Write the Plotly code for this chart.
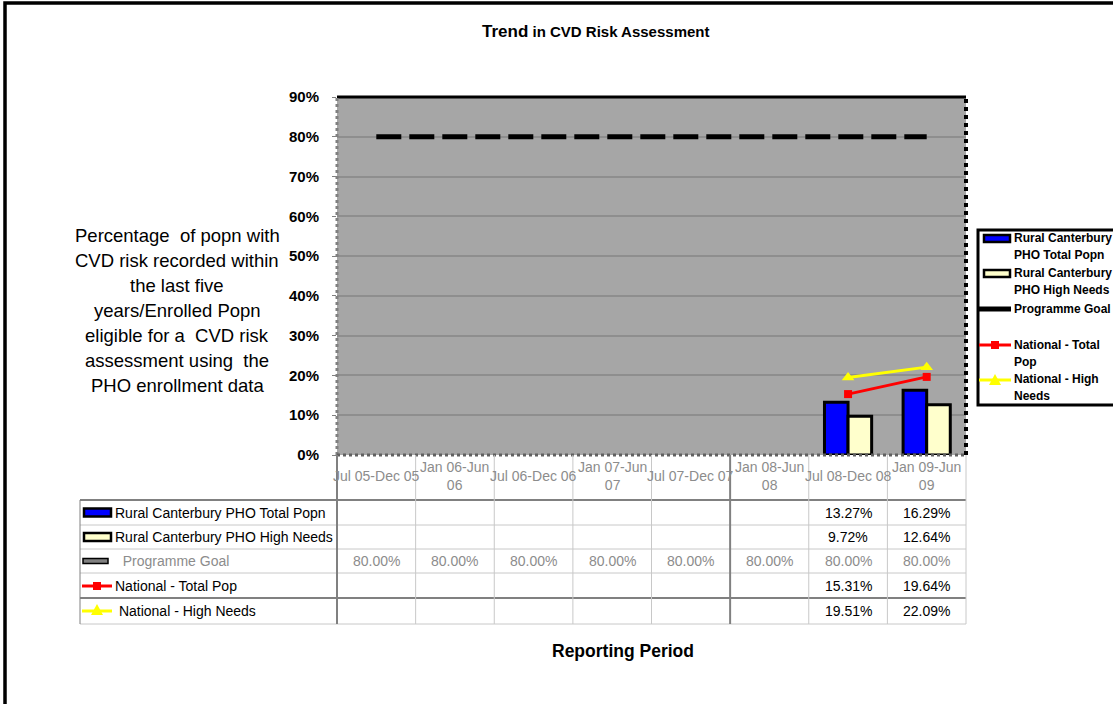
import plotly.graph_objects as go

# ── Data ─────────────────────────────────────────────────────────────────────
periods = ["Jul 05-Dec 05", "Jan 06-Jun 06", "Jul 06-Dec 06", "Jan 07-Jun 07",
           "Jul 07-Dec 07", "Jan 08-Jun 08", "Jul 08-Dec 08", "Jan 09-Jun 09"]
period_labels = ["Jul 05-Dec 05", "Jan 06-Jun<br>06", "Jul 06-Dec 06", "Jan 07-Jun<br>07",
                 "Jul 07-Dec 07", "Jan 08-Jun<br>08", "Jul 08-Dec 08", "Jan 09-Jun<br>09"]
rural_total = [None, None, None, None, None, None, 0.1327, 0.1629]
rural_high = [None, None, None, None, None, None, 0.0972, 0.1264]
programme_goal = [0.80, 0.80, 0.80, 0.80, 0.80, 0.80, 0.80, 0.80]
national_total = [None, None, None, None, None, None, 0.1531, 0.1964]
national_high = [None, None, None, None, None, None, 0.1951, 0.2209]

y_ticks = [0, 0.1, 0.2, 0.3, 0.4, 0.5, 0.6, 0.7, 0.8, 0.9]
y_title_lines = ["Percentage  of popn with", "CVD risk recorded within", "the last five",
                 "years/Enrolled Popn", "eligible for a  CVD risk",
                 "assessment using  the", "PHO enrollment data"]
legend_lines = [["Rural Canterbury", "PHO Total Popn"],
                ["Rural Canterbury", "PHO High Needs"],
                ["Programme Goal"],
                ["National - Total", "Pop"],
                ["National - High", "Needs"]]

# ── Geometry (page pixels) ───────────────────────────────────────────────────
W, H = 1113, 704
PL, PR, PT, PB = 337, 966, 97, 455
FONT = "Liberation Sans, Arial, sans-serif"
GRAY_TXT = "#8C8C8C"


def px_x(x):
    return (x - PL) / (PR - PL)


def px_y(y):
    return (PB - y) / (PB - PT)


x_idx = list(range(len(periods)))

fig = go.Figure()
fig.add_trace(go.Bar(
    x=x_idx, y=rural_total, name="Rural Canterbury PHO Total Popn",
    marker={"color": "#0000FF", "line": {"color": "black", "width": 3}},
))
fig.add_trace(go.Bar(
    x=x_idx, y=rural_high, name="Rural Canterbury PHO High Needs",
    marker={"color": "#FFFFCC", "line": {"color": "black", "width": 3}},
))
fig.add_trace(go.Scatter(
    x=x_idx, y=programme_goal, mode="lines", name="Programme Goal",
    line={"color": "black", "width": 5, "dash": "25px,8px"},
))
fig.add_trace(go.Scatter(
    x=x_idx, y=national_total, mode="lines+markers", name="National - Total Pop",
    line={"color": "#FF0000", "width": 3},
    marker={"symbol": "square", "size": 8, "color": "#FF0000"},
))
fig.add_trace(go.Scatter(
    x=x_idx, y=national_high, mode="lines+markers", name="National - High Needs",
    line={"color": "#FFFF00", "width": 3},
    marker={"symbol": "triangle-up", "size": 11, "color": "#FFFF00"},
))

shapes = []
annotations = []


def line(x0, x1, y0, y1, color, width, dash="solid"):
    shapes.append(dict(type="line", xref="paper", yref="paper",
                       x0=x0, x1=x1, y0=y0, y1=y1,
                       line={"color": color, "width": width, "dash": dash}))


def rect(x0, x1, y0, y1, fill, lc="black", lw=2.5):
    shapes.append(dict(type="rect", xref="paper", yref="paper",
                       x0=px_x(x0), x1=px_x(x1), y0=px_y(y0), y1=px_y(y1),
                       fillcolor=fill, line={"color": lc, "width": lw}))


def tri(xc, yc, fill):
    shapes.append(dict(type="path", xref="paper", yref="paper",
                       path=f"M {px_x(xc - 6)},{px_y(yc + 4)} L {px_x(xc + 6)},{px_y(yc + 4)} "
                            f"L {px_x(xc)},{px_y(yc - 7)} Z",
                       fillcolor=fill, line={"width": 0}))


def text(x, y, s, size=14, color="black", anchor="left", xref="paper", bold=False, family=FONT):
    annotations.append(dict(x=x, xref=xref, y=px_y(y), yref="paper", text=s,
                            showarrow=False, xanchor=anchor, yanchor="middle",
                            font={"family": family, "size": size, "color": color,
                                  "weight": "bold" if bold else "normal"}))


# plot area edges
line(0, 1, 1, 1, "black", 3)
line(1, 1, 0, 1, "black", 4, "dot")
line(0, 0, 0, 1, "#808080", 3, "dot")
line(0, 1, 0, 0, "#606060", 3, "dot")

# outer frame
rect(5, 1130, 3, 720, "rgba(0,0,0,0)", "black", 3.5)

# x category labels
for i, lab in enumerate(period_labels):
    text(i, 476, lab, 14, GRAY_TXT, "center", xref="x")

# data table grid
row_edges = [500, 525, 549, 573, 598, 624]
n = len(periods)
light, dark = "#C8C8C8", "#808080"
for k, ye in enumerate(row_edges):
    heavy = k in (0, 4)
    line(px_x(80), 1, px_y(ye), px_y(ye), dark if heavy else light, 2 if heavy else 1)
line(px_x(80), px_x(80), px_y(500), px_y(624), dark, 1)
for b in range(n + 1):
    heavy = b in (0, 5)
    line(b / n, b / n, 0, px_y(624), dark if heavy else light, 2 if heavy else 1)

rows = [
    ("Rural Canterbury PHO Total Popn", rural_total, "black"),
    ("Rural Canterbury PHO High Needs", rural_high, "black"),
    ("  Programme Goal", programme_goal, GRAY_TXT),
    ("National - Total Pop", national_total, "black"),
    (" National - High Needs", national_high, "black"),
]
for r, (label, vals, col) in enumerate(rows):
    yc = (row_edges[r] + row_edges[r + 1]) / 2
    text(px_x(113), yc, label, 14, col)
    for i, v in enumerate(vals):
        if v is not None:
            text(i, yc, f"{v:.2%}", 14, col, "center", xref="x")

# legend keys inside the table
rect(84, 111, 508.5, 516.5, "#0000FF")
rect(84, 111, 533, 541, "#FFFFCC")
rect(83, 108, 558.5, 563.5, "#808080", lw=1.5)
line(px_x(82), px_x(112), px_y(586), px_y(586), "#FF0000", 3)
rect(93, 101, 582, 590, "#FF0000", lw=0)
line(px_x(82), px_x(112), px_y(611), px_y(611), "#FFFF00", 3)
tri(97, 611, "#FFFF00")

# legend box (right side, runs past the page edge like the original)
rect(978, 1130, 230, 405, "white", "black", 3)
rect(984, 1010, 235, 242, "#0000FF")
rect(984, 1010, 270, 277, "#FFFFCC")
line(px_x(979), px_x(1011), px_y(309), px_y(309), "black", 5)
line(px_x(979), px_x(1011), px_y(345), px_y(345), "#FF0000", 3)
rect(991, 999, 341, 349, "#FF0000", lw=0)
line(px_x(979), px_x(1011), px_y(380), px_y(380), "#FFFF00", 3)
tri(995, 381, "#FFFF00")
legend_y = [238, 273, 309, 345, 379]
for y0, parts in zip(legend_y, legend_lines):
    for j, part in enumerate(parts):
        text(px_x(1012), y0 + 17 * j, part, 12, "black", bold=True)

# titles
annotations.append(dict(x=px_x(595), xref="paper", y=px_y(32), yref="paper",
                        text="<b><span style='font-size:17px'>Trend</span> in CVD Risk Assessment</b>",
                        showarrow=False, xanchor="center", yanchor="middle",
                        font={"family": "Liberation Sans Narrow, " + FONT, "size": 15,
                              "color": "black"}))
text(px_x(623), 651, "Reporting Period", 17.5, "black", "center", bold=True)
for k, s in enumerate(y_title_lines):
    text(px_x(177), 235 + 25 * k, s, 18.5, "black", "center")

fig.update_layout(
    width=W, height=H,
    margin={"l": PL, "r": W - PR, "t": PT, "b": H - PB, "pad": 0},
    paper_bgcolor="white",
    plot_bgcolor="#A6A6A6",
    showlegend=False,
    barmode="group",
    bargap=0.4,
    bargroupgap=0,
    font={"family": FONT, "color": "black"},
    xaxis={"range": [-0.5, n - 0.5], "showticklabels": False, "showgrid": False,
           "zeroline": False, "ticks": ""},
    yaxis={"range": [0, 0.9], "tickvals": y_ticks, "tickformat": ".0%",
           "showgrid": True, "gridcolor": "#8E8E8E", "gridwidth": 2, "zeroline": False,
           "ticks": "outside", "ticklen": 4, "tickcolor": "#808080",
           "ticklabelstandoff": 10,
           "tickfont": {"family": FONT, "size": 15, "color": "black", "weight": "bold"}},
    shapes=shapes,
    annotations=annotations,
)

# drop the browser's default body margin so the page pixels line up with the figure
fig.write_html("out.html", config={"displayModeBar": False},
               post_script="document.body.style.margin = '0px';")
